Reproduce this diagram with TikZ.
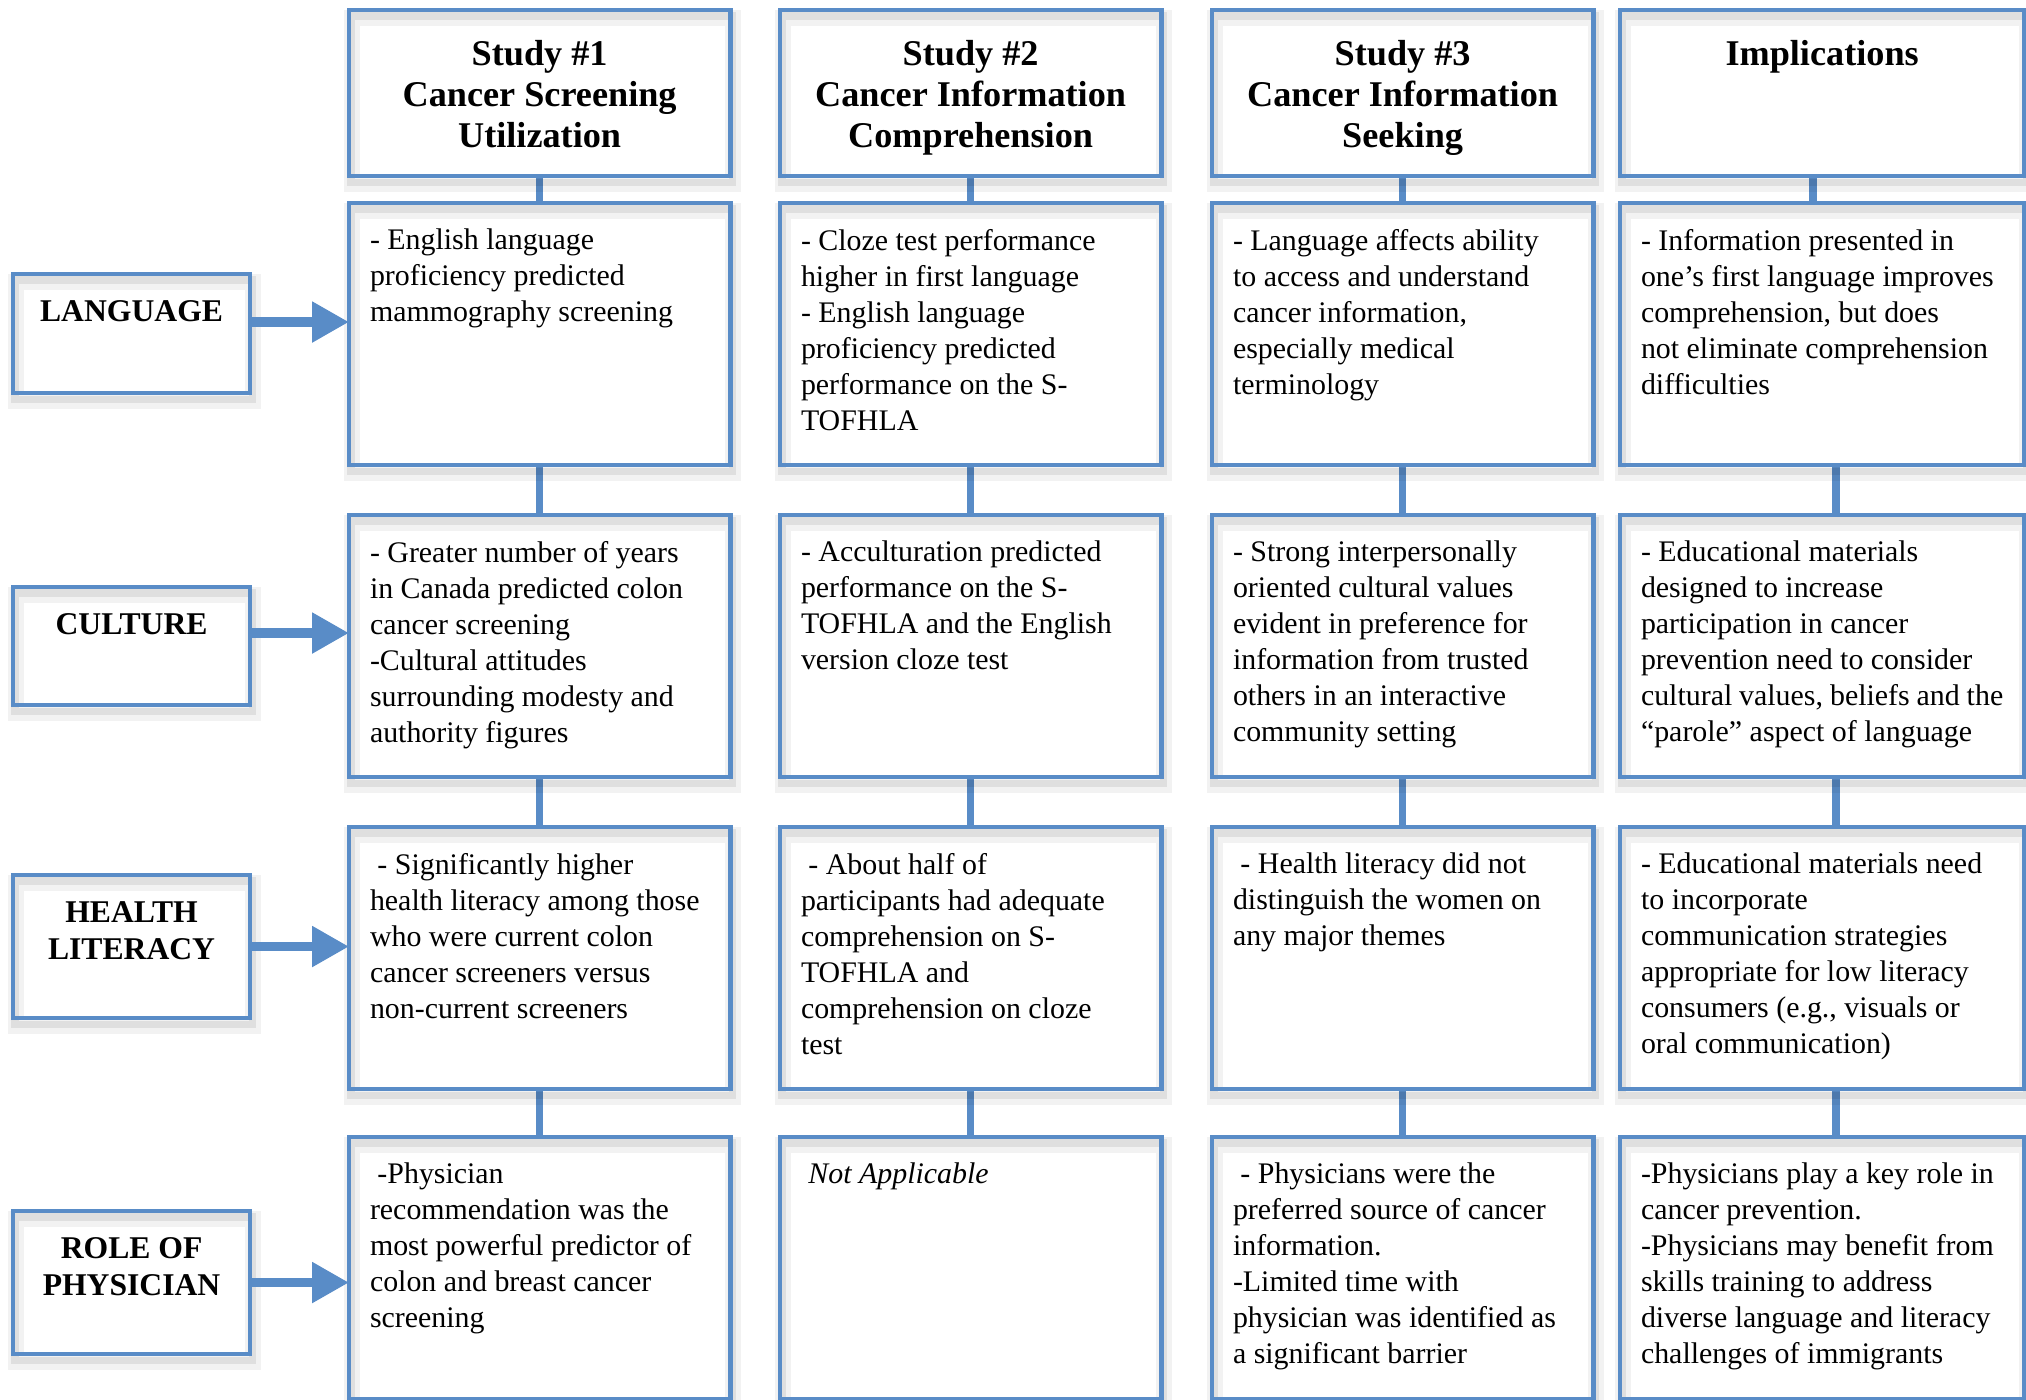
\documentclass[tikz,border=0pt]{standalone}
\usepackage{fontspec}
\setmainfont{Liberation Serif}
\usetikzlibrary{arrows.meta,shadows}

\definecolor{frameblue}{RGB}{89,140,199}

\pgfdeclarelayer{background}
\pgfsetlayers{background,main}
\tikzset{
    % boxes
    frame/.style={
        draw=frameblue,
        line width=1.3pt,
        anchor=north west,
        outer sep=0pt,
        general shadow={draw=black, opacity=.05, line width=4.5pt, shadow xshift=.3mm, shadow yshift=-.8mm},
        general shadow={draw=black, opacity=.08, line width=2pt, shadow xshift=.2mm, shadow yshift=-.6mm}
    },
    head/.style={
        frame,
        inner xsep=.21cm,
        inner ysep=.30cm,
        font=\bfseries\fontsize{10.3}{11.7}\selectfont,
        execute at begin node={\begin{minipage}[c][1.06cm][t]{#1}\centering},
        execute at end node={\end{minipage}}
    },
    head/.default=3.39cm,
    factor/.style={
        frame,
        inner xsep=.10cm,
        inner ysep=.27cm,
        font=\bfseries\fontsize{9}{10.3}\selectfont,
        execute at begin node={\begin{minipage}[c][#1][t]{2.17cm}\centering},
        execute at end node={\end{minipage}}
    },
    finding/.style={
        frame,
        inner xsep=.21cm,
        inner ysep=.26cm,
        font=\fontsize{8.5}{10.24}\selectfont,
        execute at begin node={\begin{minipage}[c][2.10cm][t]{#1}\raggedright},
        execute at end node={\end{minipage}}
    },
    finding/.default=3.39cm,
    % connectors
    link/.style={
        draw=frameblue,
        line width=2.2pt
    },
    feed/.style={
        draw=frameblue,
        line width=2.6pt,
        -{Triangle[length=10.5pt, width=11pt]}
    }
}

\begin{document}
\begin{tikzpicture}[x=0.01cm, y=-0.01cm]

        \useasboundingbox (0, 0) rectangle (2026, 1400);

        % headings
        \node [head] (head-1) at (349, 10) {Study \#1\\Cancer Screening\\Utilization};
        \node [head] (head-2) at (780, 10) {Study \#2\\Cancer Information\\Comprehension};
        \node [head] (head-3) at (1212, 10) {Study \#3\\Cancer Information\\Seeking};
        \node [head=3.62cm] (head-4) at (1620, 10) {Implications};

        % factors
        \node [factor=.65cm] (factor-1) at (13, 274) {LANGUAGE};
        \node [factor=.64cm] (factor-2) at (13, 587) {CULTURE};
        \node [factor=.89cm] (factor-3) at (13, 875) {HEALTH\\LITERACY};
        \node [factor=.89cm] (factor-4) at (13, 1211) {ROLE OF\\PHYSICIAN};

        % language
        \node [finding] (cell-11) at (349, 203) {- English language\\proficiency predicted\\mammography screening};
        \node [finding] (cell-21) at (780, 203) {- Cloze test performance\\higher in first language\\- English language\\proficiency predicted\\performance on the S-\\TOFHLA};
        \node [finding] (cell-31) at (1212, 203) {- Language affects ability\\to access and understand\\cancer information,\\especially medical\\terminology};
        \node [finding=3.62cm] (cell-41) at (1620, 203) {- Information presented in\\one’s first language improves\\comprehension, but does\\not eliminate comprehension\\difficulties};

        % culture
        \node [finding] (cell-12) at (349, 515) {- Greater number of years\\in Canada predicted colon\\cancer screening\\-Cultural attitudes\\surrounding modesty and\\authority figures};
        \node [finding] (cell-22) at (780, 515) {- Acculturation predicted\\performance on the S-\\TOFHLA and the English\\version cloze test};
        \node [finding] (cell-32) at (1212, 515) {- Strong interpersonally\\oriented cultural values\\evident in preference for\\information from trusted\\others in an interactive\\community setting};
        \node [finding=3.62cm] (cell-42) at (1620, 515) {- Educational materials\\designed to increase\\participation in cancer\\prevention need to consider\\cultural values, beliefs and the\\“parole” aspect of language};

        % health literacy
        \node [finding] (cell-13) at (349, 827) {\hspace{.25em}- Significantly higher\\health literacy among those\\who were current colon\\cancer screeners versus\\non-current screeners};
        \node [finding] (cell-23) at (780, 827) {\hspace{.25em}- About half of\\participants had adequate\\comprehension on S-\\TOFHLA and\\comprehension on cloze\\test};
        \node [finding] (cell-33) at (1212, 827) {\hspace{.25em}- Health literacy did not\\distinguish the women on\\any major themes};
        \node [finding=3.62cm] (cell-43) at (1620, 827) {- Educational materials need\\to incorporate\\communication strategies\\appropriate for low literacy\\consumers (e.g., visuals or\\oral communication)};

        % role of physician
        \node [finding] (cell-14) at (349, 1137) {\hspace{.25em}-Physician\\recommendation was the\\most powerful predictor of\\colon and breast cancer\\screening};
        \node [finding] (cell-24) at (780, 1137) {\hspace{.25em}\textit{Not Applicable}};
        \node [finding] (cell-34) at (1212, 1137) {\hspace{.25em}- Physicians were the\\preferred source of cancer\\information.\\-Limited time with\\physician was identified as\\a significant barrier};
        \node [finding=3.62cm] (cell-44) at (1620, 1137) {-Physicians play a key role in\\cancer prevention.\\-Physicians may benefit from\\skills training to address\\diverse language and literacy\\challenges of immigrants};

        \begin{pgfonlayer}{background}
            % column links
            \foreach \c in {1, 2, 3} {
                \draw [link] (head-\c.south) -- (cell-\c1.north);
                \foreach \r [evaluate=\r as \n using int(\r+1)] in {1, 2, 3}
                    \draw [link] (cell-\c\r.south) -- (cell-\c\n.north);
            }
            \draw [link] ([xshift=-.09cm]head-4.south) -- ([xshift=-.09cm]cell-41.north);
            \foreach \r [evaluate=\r as \n using int(\r+1)] in {1, 2, 3}
                \draw [link] ([xshift=.14cm]cell-4\r.south) -- ([xshift=.14cm]cell-4\n.north);
        \end{pgfonlayer}

        % arrows
        \foreach \s [count=\r] in {.115cm, .13cm, 0cm, 0cm}
            \draw [feed] ([yshift=\s]factor-\r.east) -- ([yshift=\s]factor-\r.east -| cell-1\r.west);

    \end{tikzpicture}
\end{document}
